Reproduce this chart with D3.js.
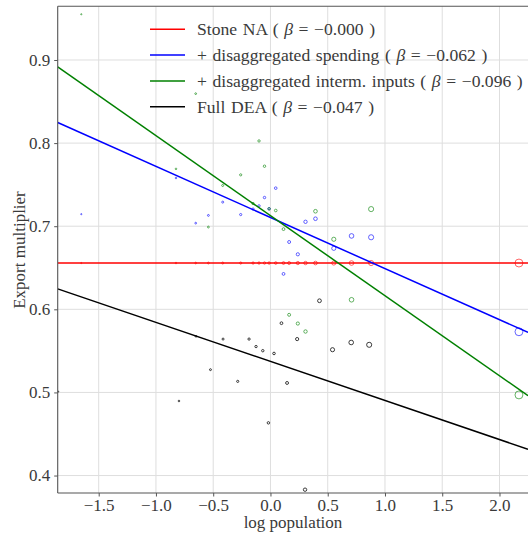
<!DOCTYPE html>
<html><head><meta charset="utf-8">
<script src="https://cdn.jsdelivr.net/npm/d3@7"></script>
<style>body{margin:0;background:#fff}svg{display:block}</style>
</head><body>
<svg id="c" width="528" height="535"></svg>
<script>
// ---- data ----
const xTicks = [-1.5, -1.0, -0.5, 0.0, 0.5, 1.0, 1.5, 2.0];
const yTicks = [0.4, 0.5, 0.6, 0.7, 0.8, 0.9];
const seriesNames = ["Stone NA", "+ disaggregated spending", "+ disaggregated interm. inputs", "Full DEA"];
const seriesBetas = ["−0.000", "−0.062", "−0.096", "−0.047"];
const seriesColors = ["#ff0000", "#0000ff", "#008000", "#000000"];
// fitted lines: value at x=0 and slope
const lineIntercepts = [0.6557, 0.7105, 0.7127, 0.5373];
const lineSlopes = [0.0, -0.0615, -0.0963, -0.0470];

// regions (log population) shared by first three series
const regionX = [-1.652, -0.825, -0.653, -0.542, -0.417, -0.260, -0.152, -0.100, -0.052, -0.012,
                 0.046, 0.114, 0.163, 0.239, 0.306, 0.393, 0.553, 0.708, 0.879, 2.170];
const stoneY = [0.6557, 0.6557, 0.6557, 0.6557, 0.6557, 0.6557, 0.6557, 0.6557, 0.6557, 0.6557,
                0.6557, 0.6557, 0.6557, 0.6557, 0.6557, 0.6557, 0.6557, 0.6557, 0.6557, 0.6557];
const spendingY = [0.7145, 0.758, 0.7037, 0.713, 0.729, 0.714, 0.7206, 0.7245, 0.7345, 0.721,
                   0.7458, 0.6426, 0.681, 0.6662, 0.7053, 0.709, 0.6734, 0.6883, 0.6867, 0.573];
const intermY = [0.955, 0.769, 0.8595, 0.699, 0.749, 0.7618, 0.7273, 0.8026, 0.7722, 0.7209,
                 0.7189, 0.6965, 0.5934, 0.5829, 0.5733, 0.718, 0.6843, 0.6115, 0.7206, 0.497];
// Full DEA points
const deaX = [-1.854, -0.799, -0.650, -0.524, -0.414, -0.286, -0.187, -0.126, -0.067, -0.018,
              0.031, 0.096, 0.145, 0.233, 0.302, 0.428, 0.542, 0.705, 0.862];
const deaY = [0.501, 0.4897, 0.5675, 0.5274, 0.5642, 0.5133, 0.5642, 0.5552, 0.5502, 0.4634,
              0.5469, 0.5833, 0.5114, 0.5642, 0.383, 0.6103, 0.5514, 0.5601, 0.5573];

// ---- layout ----
const svg = d3.select("#c");
const L = 57.7, R = 528, T = 6.3, B = 493;
const x = d3.scaleLinear().domain([-1.858, 2.249]).range([L, R]);
const y = d3.scaleLinear().domain([0.379, 0.9646]).range([B, T]);
const rScale = d3.scaleLinear().domain([-1.7, -0.8, 0, 0.9, 2.2]).range([0.6, 0.8, 1.25, 2.6, 4.0]);
const font = "'Liberation Serif', 'DejaVu Serif', serif";
const textColor = "#3a3a3a";

// grid
const g = svg.append("g");
g.selectAll(".gx").data(xTicks).join("line")
  .attr("x1", d => x(d)).attr("x2", d => x(d)).attr("y1", T).attr("y2", B)
  .attr("stroke", "#dedede").attr("stroke-width", 1);
g.selectAll(".gy").data(yTicks).join("line")
  .attr("x1", L).attr("x2", R).attr("y1", d => y(d)).attr("y2", d => y(d))
  .attr("stroke", "#dedede").attr("stroke-width", 1);

// clip
svg.append("clipPath").attr("id", "clip").append("rect")
  .attr("x", L).attr("y", T).attr("width", R - L + 10).attr("height", B - T);

const plot = svg.append("g").attr("clip-path", "url(#clip)");

// scatter
const scatterSets = [
  {xs: regionX, ys: stoneY, c: 0},
  {xs: regionX, ys: spendingY, c: 1},
  {xs: regionX, ys: intermY, c: 2},
  {xs: deaX, ys: deaY, c: 3}
];
scatterSets.forEach(s => {
  plot.append("g").selectAll("circle").data(s.xs.map((v, i) => [v, s.ys[i]])).join("circle")
    .attr("cx", d => x(d[0])).attr("cy", d => y(d[1])).attr("r", d => rScale(d[0]))
    .attr("fill", "none").attr("stroke", seriesColors[s.c]).attr("stroke-width", 1)
    .attr("stroke-opacity", s.c === 3 ? 0.75 : 0.6);
});

// fit lines
const xd = x.domain();
lineIntercepts.forEach((a, i) => {
  const pts = xd.map(v => [v, a + lineSlopes[i] * v]);
  plot.append("path").attr("d", d3.line().x(d => x(d[0])).y(d => y(d[1]))(pts))
    .attr("stroke", seriesColors[i]).attr("stroke-width", 1.5).attr("fill", "none");
});

// spines
svg.append("line").attr("x1", L).attr("x2", L).attr("y1", T).attr("y2", B).attr("stroke", "#555").attr("stroke-width", 1.1);
svg.append("line").attr("x1", L).attr("x2", R).attr("y1", B).attr("y2", B).attr("stroke", "#555").attr("stroke-width", 1.1);
svg.append("line").attr("x1", L).attr("x2", R).attr("y1", T).attr("y2", T).attr("stroke", "#555").attr("stroke-width", 1.1);

// axes
const xAxis = d3.axisBottom(x).tickValues(xTicks).tickSize(3.5).tickPadding(2)
  .tickFormat(d => d3.format(".1f")(d).replace("-", "−"));
const ax = svg.append("g").attr("transform", `translate(0,${B})`).call(xAxis);
ax.select(".domain").remove();
ax.selectAll("line").attr("stroke", "#555");
ax.selectAll("text").attr("font-family", font).attr("font-size", 17).attr("fill", textColor);

const yAxis = d3.axisLeft(y).tickValues(yTicks).tickSize(3.5).tickPadding(4)
  .tickFormat(d => d3.format(".1f")(d));
const ay = svg.append("g").attr("transform", `translate(${L},0)`).call(yAxis);
ay.select(".domain").remove();
ay.selectAll("line").attr("stroke", "#555");
ay.selectAll("text").attr("font-family", font).attr("font-size", 17).attr("fill", textColor);

// axis labels
svg.append("text").attr("x", 293).attr("y", 528).attr("text-anchor", "middle")
  .attr("font-family", font).attr("font-size", 17).attr("fill", textColor).text("log population");
svg.append("text").attr("transform", "translate(25,250) rotate(-90)").attr("text-anchor", "middle")
  .attr("font-family", font).attr("font-size", 17).attr("fill", textColor).text("Export multiplier");

// legend
const leg = svg.append("g");
seriesNames.forEach((nm, i) => {
  const cy = 29.3 + i * 25.8;
  leg.append("line").attr("x1", 150).attr("x2", 185).attr("y1", cy).attr("y2", cy)
    .attr("stroke", seriesColors[i]).attr("stroke-width", 1.5);
  const t = leg.append("text").attr("x", 197).attr("y", cy + 6)
    .attr("font-family", font).attr("font-size", 17.6).attr("fill", textColor)
    .style("word-spacing", "1.2px");
  t.append("tspan").text(nm + " ( ");
  t.append("tspan").attr("font-style", "italic").text("β");
  t.append("tspan").text(" = " + seriesBetas[i] + " )");
});
</script>
</body></html>
